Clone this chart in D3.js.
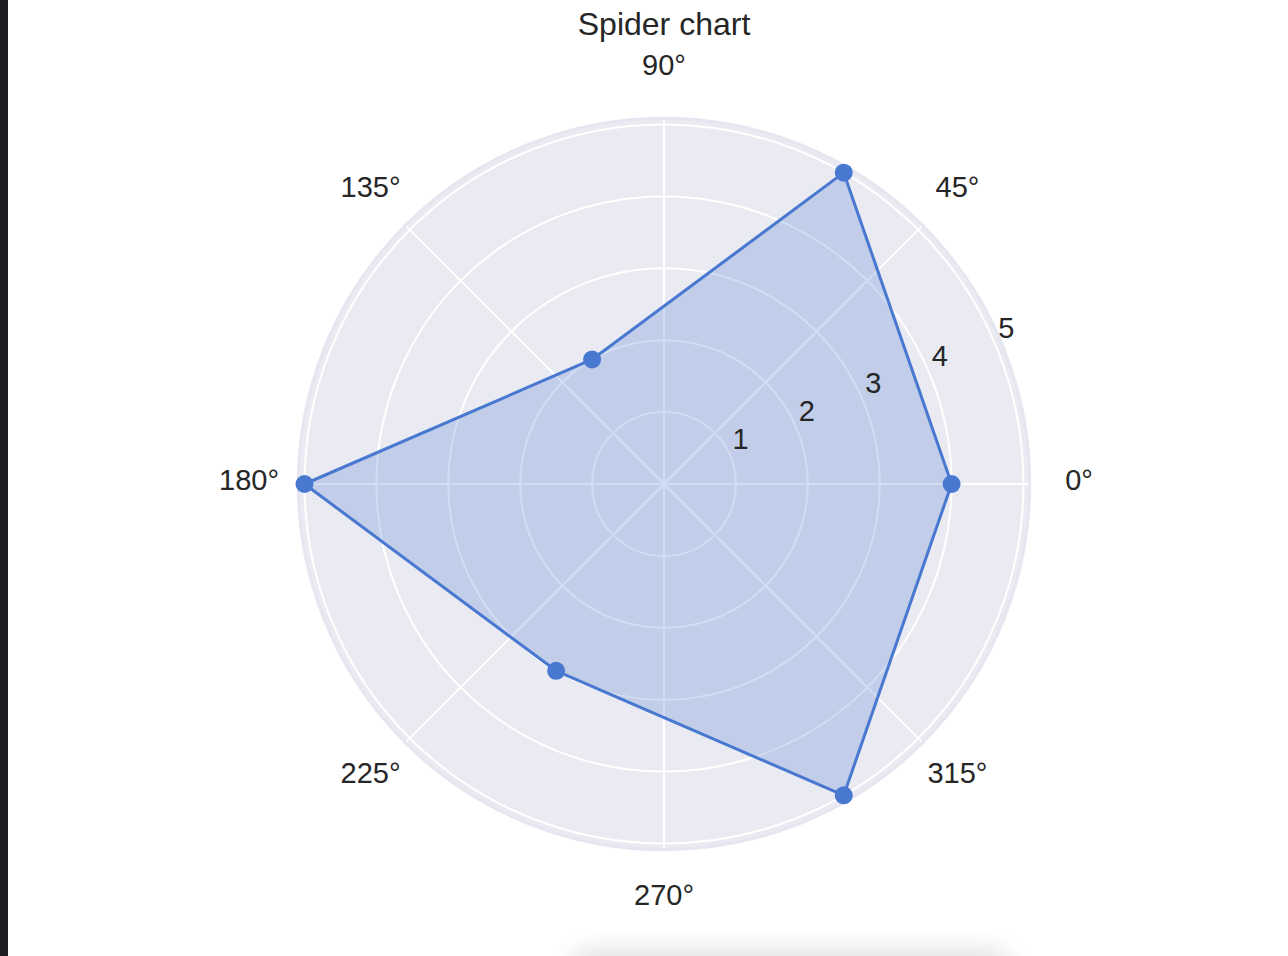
<!DOCTYPE html>
<html>
<head>
<meta charset="utf-8">
<script src="https://cdn.jsdelivr.net/npm/d3@7"></script>
<style>
  html, body { margin: 0; padding: 0; background: #fff; }
  svg { display: block; font-family: "Liberation Sans", Arial, sans-serif; }
</style>
</head>
<body>
<div id="chart"></div>
<script>
// data
const angles = [0, 60, 120, 180, 240, 300];
const values = [4, 5, 2, 5, 3, 5];
const gridAngles = [0, 45, 90, 135, 180, 225, 270, 315];
const radialTicks = [1, 2, 3, 4, 5];
const title = 'Spider chart';

const width = 1288, height = 956;
const cx = 664, cy = 484;
const rmax = 5.1;

const svg = d3.select('#chart')
    .append('svg')
    .attr('width', width)
    .attr('height', height);

// dark window edge on the left
svg.append('rect').attr('x', 0).attr('y', 0).attr('width', 8).attr('height', height).attr('fill', '#1f1f23');

// faint shadow at the bottom
const defs = svg.append('defs');
defs.append('filter').attr('id', 'blur').attr('x', '-50%').attr('y', '-50%').attr('width', '200%').attr('height', '200%')
    .append('feGaussianBlur').attr('stdDeviation', 12);
svg.append('rect')
    .attr('x', 570).attr('y', 950).attr('width', 440).attr('height', 40).attr('rx', 20)
    .attr('fill', '#000').attr('opacity', 0.12).attr('filter', 'url(#blur)');

const r = d3.scaleLinear().domain([0, 5]).range([0, 359.5]);
const toRad = d => d * Math.PI / 180;
// d3 radial angle: clockwise from 12 o'clock
const d3Angle = deg => Math.PI / 2 - toRad(deg);

const g = svg.append('g').attr('transform', `translate(${cx},${cy})`);

// axes background
g.append('circle').attr('r', r(rmax)).attr('fill', '#EAEAF2');

// radial grid circles
g.append('g')
    .selectAll('circle')
    .data(radialTicks)
    .enter()
    .append('circle')
    .attr('r', d => r(d))
    .attr('fill', 'none')
    .attr('stroke', '#fff')
    .attr('stroke-width', 2);

// angular grid lines
g.append('g')
    .selectAll('line')
    .data(gridAngles)
    .enter()
    .append('line')
    .attr('x1', 0).attr('y1', 0)
    .attr('x2', d => r(rmax) * Math.cos(toRad(d)))
    .attr('y2', d => -r(rmax) * Math.sin(toRad(d)))
    .attr('stroke', '#fff')
    .attr('stroke-width', 2);

// outer spine
g.append('circle').attr('r', r(rmax) - 1).attr('fill', 'none')
    .attr('stroke', '#E6E6F0').attr('stroke-width', 3);

const color = '#4878D0';
const pts = angles.map((a, i) => ({ a: a, v: values[i] }));

const line = d3.lineRadial()
    .angle(d => d3Angle(d.a))
    .radius(d => r(d.v))
    .curve(d3.curveLinearClosed);

// fill + outline
g.append('path').attr('d', line(pts)).attr('fill', color).attr('fill-opacity', 0.25).attr('stroke', 'none');
g.append('path').attr('d', line(pts)).attr('fill', 'none').attr('stroke', color).attr('stroke-width', 3).attr('stroke-linejoin', 'round');

// markers
g.append('g')
    .selectAll('circle')
    .data(pts)
    .enter()
    .append('circle')
    .attr('cx', d => r(d.v) * Math.cos(toRad(d.a)))
    .attr('cy', d => -r(d.v) * Math.sin(toRad(d.a)))
    .attr('r', 9)
    .attr('fill', color);

// radial tick labels at 22.5°
g.append('g')
    .selectAll('text')
    .data(radialTicks)
    .enter()
    .append('text')
    .text(d => d)
    .attr('x', d => r(d) * Math.cos(toRad(22.5)) + 2)
    .attr('y', d => -r(d) * Math.sin(toRad(22.5)) - 8)
    .attr('font-size', 29)
    .attr('fill', '#262626');

// angle labels
g.append('g')
    .selectAll('text')
    .data(gridAngles)
    .enter()
    .append('text')
    .text(d => d + '°')
    .attr('x', d => 415 * Math.cos(toRad(d)))
    .attr('y', d => -415 * Math.sin(toRad(d)) - 4)
    .attr('text-anchor', 'middle')
    .attr('dominant-baseline', 'central')
    .attr('font-size', 29)
    .attr('fill', '#262626');

// title
svg.append('text')
    .text(title)
    .attr('x', cx)
    .attr('y', 35)
    .attr('text-anchor', 'middle')
    .attr('font-size', 32)
    .attr('fill', '#262626');
</script>
</body>
</html>
